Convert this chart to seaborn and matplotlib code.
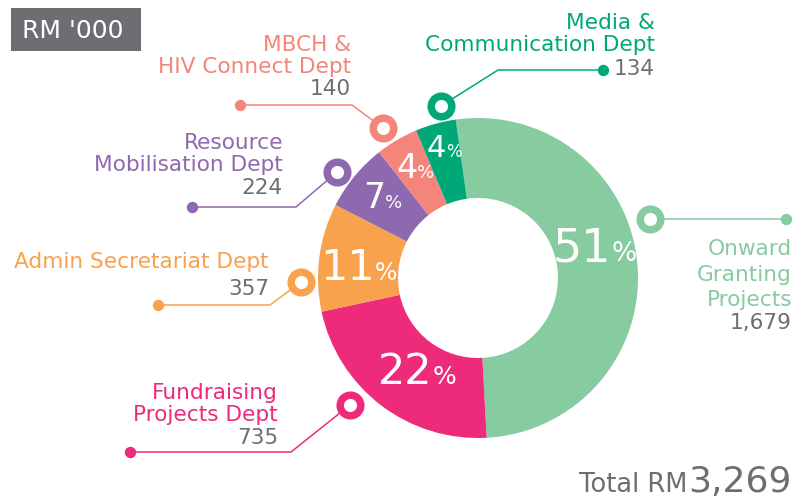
import matplotlib
matplotlib.use("Agg")
from matplotlib import pyplot as plt
from matplotlib.patches import Rectangle
import numpy as np
import seaborn as sns

# %%
# data
departments = [
    ["Onward", "Granting", "Projects"],
    ["Fundraising", "Projects Dept"],
    ["Admin Secretariat Dept"],
    ["Resource", "Mobilisation Dept"],
    ["MBCH &", "HIV Connect Dept"],
    ["Media &", "Communication Dept"],
]
values = [1679, 735, 357, 224, 140, 134]
dept_colors = ["#87CBA0", "#EE2A7B", "#F9A24E", "#8E69AF", "#F3857A", "#00A878"]
unit_label = "RM '000"
total = sum(values)

GRAY = "#6D6E71"

# %%
# layout, in pixels (y goes down)
CENTER = (478, 278)
R_OUT = 160
R_IN = 80
num_sizes = [33, 31, 31, 25, 24, 22]
pct_sizes = [19, 18, 17, 13, 13, 12]
pct_shift = [(-3, -22), (12, -5), (0, 2), (-3, -6), (-2, -9), (-2, -16)]

rings = [(650, 219), (350, 405), (301, 282), (337, 172), (383, 128), (441, 106)]
elbows = [None, (291, 452), (270, 305), (296, 207), (352, 105), (498, 70)]
dots = [(786, 219), (130, 452), (158, 305), (192, 207), (240, 105), (603, 70)]
text_right = [792, 278, 269, 283, 351, 655]
name_base = [[255, 281, 306], [399, 421], [268], [149, 171], [51, 73], [29, 51]]
value_base = [329, 444, 295, 194, 95, 75]
LABEL_FS = 15.6

sns.set_theme(style="white")
plt.rcParams['font.family'] = ['DejaVu Sans']

fig = plt.figure(figsize=(8.07, 4.99), dpi=100)
ax = fig.add_axes([0, 0, 1, 1])

palette = sns.color_palette(dept_colors)
wedges, _ = ax.pie(values, colors=palette, startangle=-98, counterclock=True,
                   radius=R_OUT, center=CENTER, frame=False,
                   wedgeprops=dict(width=R_OUT - R_IN, linewidth=0))
ax.set_xlim(0, 807)
ax.set_ylim(499, 0)
ax.set_aspect('equal')
ax.axis('off')

renderer = fig.canvas.get_renderer()

# percentage labels inside the ring
for i, w in enumerate(wedges):
    mid = np.deg2rad((w.theta1 + w.theta2) / 2)
    r_mid = (R_OUT + R_IN) / 2
    cx = CENTER[0] + r_mid * np.cos(mid) + pct_shift[i][0]
    cy = CENTER[1] + r_mid * np.sin(mid) + pct_shift[i][1]
    pct = round(values[i] / total * 100)
    t_num = ax.text(0, 0, f"{pct}", fontsize=num_sizes[i], color="white",
                    ha="left", va="baseline", zorder=5)
    t_pct = ax.text(0, 0, "%", fontsize=pct_sizes[i], color="white",
                    ha="left", va="baseline", zorder=5)
    w_num = t_num.get_window_extent(renderer).width
    w_pct = t_pct.get_window_extent(renderer).width
    gap = 0
    x0 = cx - (w_num + gap + w_pct) / 2
    base = cy + 0.73 * num_sizes[i] * 100 / 72 / 2
    t_num.set_position((x0, base))
    t_pct.set_position((x0 + w_num + gap, base))

# leader lines, rings, dots and department labels
for i in range(len(values)):
    c = dept_colors[i]
    pts = [rings[i]] + ([elbows[i]] if elbows[i] else []) + [dots[i]]
    xs, ys = zip(*pts)
    ax.plot(xs, ys, color=c, lw=1.1, zorder=3, solid_capstyle="round")
    ax.plot(*dots[i], "o", ms=7.2, color=c, zorder=4)
    ax.plot(*rings[i], "o", ms=14.8, mfc="white", mec=c, mew=5.4, zorder=4)
    for line, yb in zip(departments[i], name_base[i]):
        ax.text(text_right[i], yb, line, fontsize=LABEL_FS, color=c,
                ha="right", va="baseline")
    ax.text(text_right[i], value_base[i], f"{values[i]:,}", fontsize=LABEL_FS,
            color=GRAY, ha="right", va="baseline")

# unit box
ax.add_patch(Rectangle((11, 8), 130, 43, facecolor=GRAY, edgecolor="none"))
ax.text(22, 38, unit_label, fontsize=18, color="white", ha="left", va="baseline")

# total
t_big = ax.text(792, 492, f"{total:,}", fontsize=26, color=GRAY,
                ha="right", va="baseline")
wb = t_big.get_window_extent(renderer).width
ax.text(792 - wb - 1, 492, "Total RM", fontsize=18.5, color=GRAY,
        ha="right", va="baseline")

fig.savefig("out.png", dpi=100)
